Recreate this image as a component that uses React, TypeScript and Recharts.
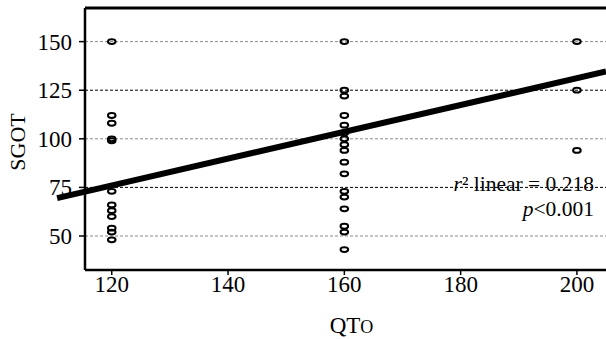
import { ScatterChart, Scatter, XAxis, YAxis, ReferenceLine } from "recharts";

// QTO categories and SGOT readings per group
const qtoTicks = [120, 140, 160, 180, 200];
const sgotTicks = [50, 75, 100, 125, 150];

const sgotAt120 = [150, 112, 108, 100, 99, 73, 66, 63, 60, 54, 52, 48];
const sgotAt160 = [150, 125, 122, 112, 107, 103, 100, 97, 94, 88, 82, 73, 70, 64, 55, 52, 43];
const sgotAt200 = [150, 125, 94];

// linear fit: SGOT = intercept + slope * QTO
const fitIntercept = -6.8;
const fitSlope = 0.69;
const fitFrom = 110.6;
const fitTo = 205;

const xDomain = [115.4, 205];
const yDomain = [32.5, 167.3];

const points = [
  ...sgotAt120.map((v) => ({ qto: 120, sgot: v })),
  ...sgotAt160.map((v) => ({ qto: 160, sgot: v })),
  ...sgotAt200.map((v) => ({ qto: 200, sgot: v })),
];

const FONT = "Liberation Serif";

const OpenMarker = (props: any) => {
  const { cx, cy } = props;
  return (
    <ellipse
      cx={cx}
      cy={cy}
      rx={3.8}
      ry={2.4}
      fill="none"
      stroke="#000"
      strokeWidth={2}
    />
  );
};

const XTick = (props: any) => {
  const { x, y, payload } = props;
  return (
    <text
      x={x}
      y={y + 16}
      textAnchor="middle"
      fill="#000"
      fontSize={23}
      fontFamily={FONT}
    >
      {payload.value}
    </text>
  );
};

const YTick = (props: any) => {
  const { x, y, payload } = props;
  return (
    <text
      x={x}
      y={y + 8}
      textAnchor="end"
      fill="#000"
      fontSize={23}
      fontFamily={FONT}
    >
      {payload.value}
    </text>
  );
};

export default function App() {
  return (
    <div style={{ position: "absolute", left: 0, top: 0, background: "#fff" }}>
      <ScatterChart
        width={606}
        height={339}
        margin={{ top: 8, right: 0, bottom: 9, left: 0 }}
      >
        {/* dashed reference grid, alternating grey / black */}
        {sgotTicks.map((t, i) => (
          <ReferenceLine
            key={t}
            y={t}
            stroke={i % 2 === 0 ? "#8a8a8a" : "#000"}
            strokeDasharray="3 2"
            strokeWidth={1}
          />
        ))}
        <ReferenceLine y={yDomain[1]} stroke="#000" strokeWidth={3} />
        <XAxis
          type="number"
          dataKey="qto"
          domain={xDomain}
          ticks={qtoTicks}
          height={60}
          tickSize={5}
          tickMargin={1}
          axisLine={{ stroke: "#000", strokeWidth: 2.5 }}
          tickLine={{ stroke: "#000", strokeWidth: 1.5 }}
          tick={<XTick />}
          label={{
            content: (p: any) => {
              const vb = p.viewBox || { x: 85, width: 521 };
              return (
                <text
                  x={vb.x + vb.width / 2 + 6}
                  y={333}
                  textAnchor="middle"
                  fill="#000"
                  fontSize={23}
                  fontFamily={FONT}
                >
                  QT<tspan fontSize={18}>O</tspan>
                </text>
              );
            },
          }}
        />
        <YAxis
          type="number"
          dataKey="sgot"
          domain={yDomain}
          ticks={sgotTicks}
          width={85}
          tickSize={6}
          tickMargin={7}
          axisLine={{ stroke: "#000", strokeWidth: 2.5 }}
          tickLine={{ stroke: "#000", strokeWidth: 1.5 }}
          tick={<YTick />}
          label={{
            content: () => (
              <text
                transform="translate(25, 142) rotate(-90)"
                textAnchor="middle"
                fill="#000"
                fontSize={22}
                fontFamily={FONT}
              >
                SGOT
              </text>
            ),
          }}
        />
        <Scatter
          data={points}
          shape={OpenMarker}
          isAnimationActive={false}
        />
        <ReferenceLine
          segment={[
            { x: fitFrom, y: fitIntercept + fitSlope * fitFrom },
            { x: fitTo, y: fitIntercept + fitSlope * fitTo },
          ]}
          stroke="#000"
          strokeWidth={6}
          ifOverflow="visible"
        />
        <text
          x={594}
          y={191}
          textAnchor="end"
          fill="#000"
          fontSize={21.5}
          fontFamily={FONT}
        >
          <tspan fontStyle="italic">r</tspan>² linear = 0.218
        </text>
        <text
          x={594}
          y={216}
          textAnchor="end"
          fill="#000"
          fontSize={21.5}
          fontFamily={FONT}
        >
          <tspan fontStyle="italic">p</tspan>&lt;0.001
        </text>
      </ScatterChart>
    </div>
  );
}
